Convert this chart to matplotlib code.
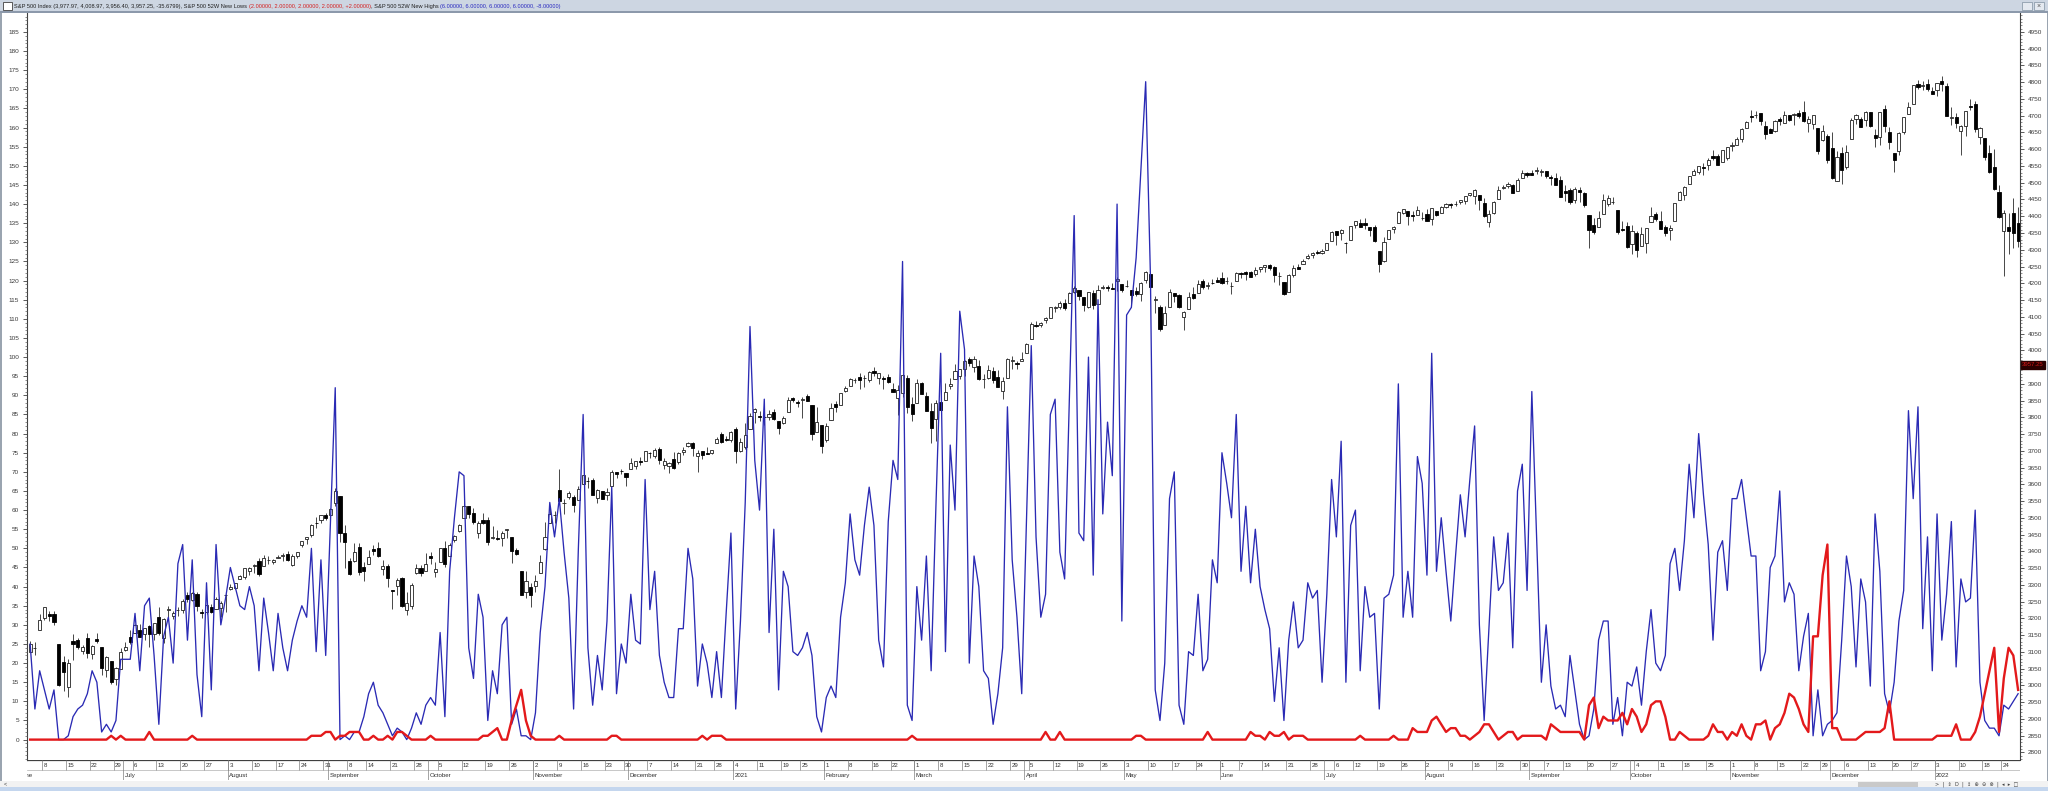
import matplotlib
matplotlib.use("Agg")
import matplotlib.pyplot as plt
from matplotlib.patches import Rectangle
from matplotlib.ticker import FixedLocator, MultipleLocator
import numpy as np
import pandas as pd

plt.rcParams['font.family'] = ['Liberation Sans', 'DejaVu Sans']

# trading days on screen: 2020-06-03 .. 2022-01-27
first_day = "2020-06-03"
last_day = "2022-01-27"
holidays = ["2020-07-03", "2020-09-07", "2020-11-26", "2020-12-25", "2021-01-01",
            "2021-01-18", "2021-02-15", "2021-04-02", "2021-05-31", "2021-07-05",
            "2021-09-06", "2021-11-25", "2021-12-24", "2022-01-17"]

# S&P 500 daily candles (right axis)
opens = [
    # 2020-06
    3098.9, 3111.6, 3163.8, 3199.9, 3213.3, 3213.4, 3123.5, 3071.0, 2993.8, 3131.0, 3136.1, 3101.6, 3140.3, 3094.4, 3138.7, 3114.4, 3046.6, 3073.2, 3018.6, 3050.2,
    # 2020-07
    3105.9, 3143.6, 3155.3, 3166.4, 3153.1, 3176.2, 3152.5, 3205.1, 3141.1, 3225.0, 3208.4, 3224.2, 3224.3, 3268.5, 3254.9, 3271.6, 3218.6, 3219.8, 3234.3, 3227.2, 3231.8, 3270.5,
    # 2020-08
    3288.3, 3289.9, 3317.4, 3323.2, 3340.1, 3356.0, 3370.3, 3355.5, 3372.9, 3368.7, 3380.9, 3387.0, 3392.5, 3360.5, 3386.0, 3418.1, 3435.9, 3450.0, 3485.1, 3494.7, 3509.7,
    # 2020-09
    3507.4, 3543.8, 3564.7, 3453.6, 3371.9, 3369.8, 3412.6, 3352.7, 3363.6, 3407.7, 3411.2, 3346.9, 3357.4, 3285.6, 3295.8, 3320.1, 3226.1, 3236.7, 3333.9, 3350.9, 3341.2,
    # 2020-10
    3385.9, 3338.9, 3367.3, 3408.7, 3384.6, 3434.3, 3459.7, 3500.0, 3534.0, 3515.5, 3453.7, 3493.5, 3493.7, 3439.4, 3439.9, 3438.5, 3464.9, 3441.4, 3403.2, 3342.5, 3277.2, 3293.6,
    # 2020-11
    3296.2, 3336.3, 3406.5, 3485.7, 3508.3, 3583.0, 3543.3, 3563.2, 3562.7, 3552.6, 3600.2, 3610.3, 3612.1, 3559.4, 3579.3, 3566.8, 3594.5, 3635.5, 3638.6, 3634.2,
    # 2020-12
    3645.9, 3653.8, 3668.3, 3670.9, 3694.7, 3683.1, 3706.0, 3659.1, 3656.1, 3675.3, 3666.4, 3696.3, 3713.7, 3722.4, 3684.3, 3698.1, 3693.4, 3694.0, 3723.0, 3750.0, 3736.2, 3733.3,
    # 2021-01
    3764.6, 3698.0, 3712.2, 3764.7, 3815.1, 3803.1, 3801.6, 3802.2, 3815.0, 3788.7, 3781.9, 3816.2, 3857.5, 3844.2, 3851.7, 3863.0, 3836.8, 3755.8, 3778.1,
    # 2021-02
    3731.2, 3791.8, 3840.3, 3836.7, 3878.3, 3892.6, 3910.5, 3920.8, 3916.4, 3911.7, 3939.6, 3918.5, 3915.9, 3921.2, 3885.6, 3857.1, 3873.7, 3915.8, 3839.7,
    # 2021-03
    3842.5, 3903.6, 3864.0, 3818.5, 3793.6, 3844.4, 3851.9, 3892.0, 3915.5, 3924.5, 3943.0, 3973.6, 3949.6, 3953.5, 3913.1, 3916.5, 3937.6, 3919.9, 3879.3, 3917.1, 3969.3, 3963.3, 3967.3,
    # 2021-04
    3992.8, 4034.4, 4075.6, 4074.3, 4090.0, 4096.1, 4124.7, 4130.1, 4141.6, 4139.8, 4174.1, 4179.8, 4159.2, 4128.4, 4170.5, 4138.8, 4185.0, 4188.3, 4185.1, 4206.1, 4198.1,
    # 2021-05
    4192.0, 4179.0, 4177.1, 4169.1, 4210.3, 4228.3, 4150.3, 4130.6, 4075.0, 4129.6, 4169.9, 4165.9, 4098.5, 4122.0, 4168.6, 4170.2, 4205.9, 4191.6, 4201.9, 4210.8,
    # 2021-06
    4216.5, 4206.8, 4191.4, 4206.1, 4229.3, 4233.8, 4233.0, 4228.6, 4242.9, 4248.3, 4255.3, 4248.9, 4220.4, 4204.8, 4173.4, 4224.6, 4249.3, 4257.0, 4274.5, 4284.9, 4293.2, 4290.7,
    # 2021-07
    4300.7, 4326.6, 4356.5, 4351.0, 4321.1, 4329.4, 4372.4, 4381.1, 4380.1, 4369.0, 4367.4, 4296.4, 4265.1, 4331.1, 4361.3, 4381.2, 4409.6, 4416.4, 4403.0, 4403.6, 4395.1,
    # 2021-08
    4406.9, 4392.7, 4416.0, 4408.9, 4429.1, 4437.8, 4435.8, 4442.2, 4446.1, 4464.8, 4461.7, 4462.1, 4440.9, 4382.4, 4410.6, 4450.3, 4484.4, 4490.5, 4493.8, 4474.1, 4513.8, 4529.8,
    # 2021-09
    4528.8, 4534.5, 4532.4, 4535.4, 4518.1, 4513.0, 4506.9, 4474.8, 4479.3, 4447.5, 4477.1, 4469.7, 4403.0, 4374.5, 4367.4, 4406.8, 4438.0, 4442.1, 4419.5, 4362.4, 4370.7,
    # 2021-10
    4317.2, 4348.8, 4309.9, 4319.6, 4384.0, 4406.5, 4385.4, 4368.3, 4358.0, 4386.8, 4447.7, 4463.7, 4497.3, 4524.4, 4532.2, 4546.1, 4553.7, 4578.7, 4580.2, 4562.8, 4572.9,
    # 2021-11
    4610.6, 4613.3, 4630.7, 4662.9, 4699.3, 4701.5, 4707.3, 4670.3, 4659.4, 4655.2, 4689.3, 4679.4, 4701.5, 4700.7, 4708.4, 4712.0, 4678.5, 4675.8, 4664.6, 4628.8, 4640.3,
    # 2021-12
    4602.8, 4504.7, 4589.5, 4548.4, 4632.0, 4690.9, 4691.0, 4687.6, 4710.3, 4643.0, 4636.5, 4719.1, 4652.5, 4587.9, 4595.0, 4650.4, 4704.0, 4734.0, 4795.5, 4788.6, 4794.2, 4775.2,
    # 2022-01
    4778.1, 4804.5, 4788.0, 4693.4, 4697.7, 4655.3, 4669.1, 4728.6, 4733.6, 4638.0, 4632.2, 4588.0, 4547.4, 4471.4, 4356.3, 4366.6, 4408.4, 4380.6,
]
highs = [
    3130.9, 3128.9, 3211.7, 3233.1, 3222.7, 3223.3, 3123.5, 3088.4, 3079.8, 3153.5, 3141.2, 3120.0, 3155.5, 3120.9, 3154.9, 3115.0, 3086.3, 3073.7, 3053.9, 3111.5,
    3128.4, 3165.8, 3182.6, 3184.2, 3171.8, 3179.8, 3186.8, 3235.3, 3200.9, 3238.3, 3220.4, 3233.5, 3258.6, 3277.3, 3279.3, 3279.9, 3227.3, 3241.4, 3243.7, 3264.7, 3250.9, 3272.2,
    3302.7, 3306.8, 3330.8, 3351.0, 3352.5, 3363.3, 3381.0, 3387.9, 3387.2, 3378.5, 3387.6, 3395.1, 3399.5, 3390.8, 3399.0, 3432.1, 3444.2, 3481.1, 3501.4, 3509.2, 3514.8,
    3528.0, 3588.1, 3564.9, 3479.2, 3380.0, 3424.8, 3425.6, 3369.0, 3402.9, 3419.5, 3428.9, 3375.2, 3362.3, 3285.6, 3320.3, 3323.4, 3278.7, 3306.9, 3360.7, 3357.9, 3393.6,
    3397.2, 3369.1, 3409.6, 3431.6, 3426.3, 3447.3, 3482.3, 3549.9, 3534.0, 3527.9, 3489.1, 3515.8, 3502.4, 3476.9, 3464.9, 3460.5, 3466.5, 3441.4, 3409.5, 3342.5, 3341.1, 3304.9,
    3330.1, 3389.5, 3486.3, 3529.1, 3521.6, 3646.0, 3557.2, 3581.2, 3569.0, 3593.7, 3628.5, 3623.1, 3619.1, 3585.2, 3581.2, 3589.8, 3642.3, 3635.5, 3644.3, 3634.2,
    3678.5, 3671.0, 3682.7, 3699.2, 3697.4, 3708.5, 3712.4, 3678.5, 3665.9, 3697.6, 3695.3, 3711.3, 3725.1, 3726.7, 3702.9, 3698.3, 3711.2, 3703.8, 3740.5, 3756.1, 3744.6, 3760.2,
    3770.0, 3737.8, 3783.0, 3811.6, 3826.7, 3817.9, 3810.8, 3821.0, 3823.6, 3788.7, 3804.5, 3859.8, 3861.5, 3852.3, 3859.2, 3870.9, 3836.8, 3830.5, 3778.1,
    3784.3, 3843.1, 3847.5, 3872.4, 3894.6, 3915.8, 3918.4, 3931.5, 3926.0, 3937.2, 3950.4, 3933.6, 3922.0, 3930.4, 3902.9, 3896.0, 3928.7, 3925.0, 3861.1,
    3914.5, 3906.4, 3874.5, 3843.7, 3851.7, 3881.1, 3903.8, 3917.4, 3960.3, 3945.0, 3970.1, 3981.0, 3983.9, 3969.6, 3930.1, 3955.3, 3949.1, 3942.1, 3919.5, 3978.2, 3981.8, 3968.0, 3994.4,
    4020.6, 4083.4, 4086.2, 4083.1, 4098.2, 4129.5, 4131.8, 4148.0, 4151.7, 4173.5, 4191.3, 4180.8, 4159.2, 4175.0, 4179.6, 4194.2, 4194.2, 4193.4, 4201.5, 4218.8, 4198.1,
    4209.4, 4179.0, 4187.7, 4202.7, 4238.0, 4236.4, 4162.0, 4134.7, 4131.6, 4183.1, 4171.9, 4169.1, 4116.9, 4172.8, 4188.7, 4209.5, 4213.4, 4202.6, 4213.4, 4218.4,
    4234.1, 4217.4, 4204.4, 4233.5, 4232.3, 4236.7, 4237.1, 4249.7, 4248.4, 4255.6, 4257.2, 4251.9, 4232.3, 4204.8, 4226.2, 4255.8, 4256.6, 4271.3, 4286.1, 4292.1, 4300.5, 4302.4,
    4320.7, 4355.4, 4356.5, 4361.9, 4324.3, 4372.0, 4386.7, 4392.4, 4393.7, 4369.0, 4375.1, 4296.4, 4336.8, 4359.7, 4369.9, 4415.2, 4422.7, 4416.4, 4415.5, 4430.0, 4412.3,
    4422.2, 4423.8, 4416.2, 4429.8, 4440.8, 4439.4, 4445.2, 4449.4, 4461.8, 4468.4, 4480.3, 4462.1, 4454.3, 4418.6, 4444.4, 4489.9, 4492.8, 4501.7, 4495.9, 4513.3, 4537.4, 4531.4,
    4537.1, 4545.9, 4541.5, 4535.4, 4521.8, 4529.9, 4520.5, 4493.0, 4485.7, 4486.9, 4485.9, 4471.5, 4403.0, 4394.9, 4416.8, 4465.4, 4463.1, 4457.3, 4419.5, 4385.6, 4382.6,
    4375.2, 4355.5, 4369.2, 4365.6, 4429.0, 4412.0, 4415.9, 4374.9, 4372.9, 4439.7, 4475.8, 4488.8, 4520.4, 4540.9, 4551.4, 4559.7, 4572.6, 4598.5, 4584.6, 4597.6, 4608.1,
    4620.3, 4635.2, 4663.5, 4683.0, 4718.5, 4714.9, 4708.5, 4684.9, 4664.6, 4688.5, 4697.4, 4715.0, 4701.5, 4708.8, 4717.8, 4743.8, 4699.4, 4702.9, 4664.6, 4673.0, 4646.0,
    4652.9, 4595.5, 4608.0, 4612.6, 4694.0, 4705.1, 4695.3, 4713.6, 4710.3, 4660.5, 4712.6, 4732.0, 4666.7, 4587.9, 4651.1, 4697.7, 4740.7, 4791.5, 4807.0, 4804.1, 4808.9, 4786.8,
    4796.6, 4818.6, 4797.7, 4725.0, 4708.0, 4673.0, 4714.1, 4749.0, 4744.1, 4665.1, 4632.2, 4611.6, 4602.1, 4494.5, 4417.4, 4411.0, 4453.2, 4428.7,
]
lows = [
    3098.9, 3090.4, 3163.8, 3196.0, 3193.1, 3181.5, 2999.5, 2984.5, 2965.7, 3076.1, 3108.0, 3093.5, 3083.1, 3079.4, 3127.1, 3032.1, 3024.0, 3004.6, 2999.7, 3047.8,
    3101.2, 3124.5, 3155.3, 3142.9, 3136.5, 3115.7, 3136.2, 3149.4, 3127.7, 3200.8, 3198.6, 3205.7, 3215.2, 3247.8, 3253.1, 3222.7, 3200.1, 3214.3, 3216.2, 3227.2, 3204.1, 3220.3,
    3284.5, 3286.4, 3317.4, 3318.1, 3328.7, 3335.4, 3326.4, 3355.5, 3363.4, 3361.6, 3379.2, 3370.2, 3369.7, 3354.7, 3379.3, 3413.1, 3421.1, 3444.2, 3468.4, 3484.3, 3493.3,
    3494.6, 3535.2, 3427.4, 3349.6, 3329.3, 3366.8, 3329.3, 3310.5, 3363.6, 3389.2, 3384.5, 3328.8, 3292.4, 3229.1, 3271.0, 3232.6, 3209.5, 3228.4, 3332.9, 3327.5, 3340.5,
    3361.4, 3323.7, 3367.3, 3354.5, 3384.6, 3428.2, 3458.1, 3499.6, 3500.9, 3480.6, 3440.9, 3480.5, 3419.9, 3435.7, 3433.1, 3415.3, 3440.5, 3364.9, 3388.7, 3268.9, 3259.8, 3233.9,
    3279.7, 3336.3, 3405.2, 3485.7, 3484.3, 3547.5, 3511.9, 3557.0, 3518.6, 3552.6, 3600.2, 3588.7, 3567.3, 3543.8, 3556.9, 3552.8, 3594.5, 3617.8, 3629.3, 3594.4,
    3645.9, 3644.8, 3657.2, 3670.9, 3678.9, 3678.8, 3660.5, 3645.2, 3633.4, 3645.8, 3659.6, 3688.6, 3710.9, 3685.8, 3636.5, 3676.2, 3689.3, 3689.3, 3723.0, 3723.3, 3730.2, 3726.9,
    3662.7, 3695.1, 3705.3, 3764.7, 3783.6, 3789.0, 3776.5, 3791.5, 3792.9, 3749.6, 3780.4, 3816.2, 3845.1, 3830.4, 3797.2, 3847.8, 3732.5, 3755.8, 3694.1,
    3725.6, 3791.8, 3816.7, 3836.7, 3874.9, 3892.6, 3902.6, 3884.9, 3890.4, 3905.8, 3923.9, 3900.4, 3885.0, 3903.1, 3874.7, 3805.6, 3859.6, 3814.0, 3789.5,
    3842.5, 3868.6, 3818.9, 3723.3, 3730.2, 3819.3, 3851.9, 3885.7, 3915.5, 3915.2, 3923.5, 3953.4, 3935.7, 3910.9, 3886.8, 3914.2, 3901.6, 3889.1, 3853.5, 3917.1, 3943.3, 3944.4, 3967.0,
    3992.8, 4034.4, 4068.1, 4068.3, 4082.5, 4095.5, 4114.8, 4124.4, 4120.9, 4139.8, 4170.8, 4150.5, 4118.4, 4126.4, 4123.7, 4138.8, 4182.4, 4176.2, 4181.8, 4176.8, 4174.9,
    4188.0, 4128.6, 4160.9, 4147.3, 4201.6, 4188.1, 4111.5, 4056.9, 4075.0, 4129.6, 4142.7, 4126.0, 4061.4, 4122.0, 4151.7, 4170.2, 4182.5, 4184.1, 4197.8, 4203.6,
    4197.6, 4198.3, 4167.9, 4206.1, 4215.7, 4208.4, 4218.7, 4220.3, 4233.0, 4234.1, 4238.4, 4202.5, 4196.1, 4164.4, 4173.4, 4217.3, 4241.4, 4257.0, 4271.2, 4274.7, 4287.0, 4287.8,
    4300.7, 4326.6, 4314.4, 4329.8, 4289.5, 4329.4, 4364.0, 4366.9, 4362.4, 4340.7, 4323.0, 4233.1, 4262.1, 4331.1, 4350.1, 4381.2, 4405.5, 4372.5, 4387.0, 4403.6, 4389.7,
    4384.8, 4373.0, 4400.2, 4408.9, 4424.5, 4424.7, 4430.0, 4436.4, 4435.5, 4460.8, 4437.7, 4417.8, 4397.6, 4367.7, 4406.8, 4450.3, 4482.3, 4485.7, 4469.0, 4474.1, 4513.8, 4515.8,
    4522.0, 4524.7, 4521.3, 4513.0, 4494.0, 4492.1, 4457.7, 4445.7, 4435.5, 4438.4, 4443.8, 4427.8, 4305.9, 4348.0, 4367.4, 4406.8, 4430.3, 4436.2, 4346.3, 4355.1, 4306.2,
    4288.5, 4278.9, 4309.9, 4290.5, 4384.0, 4386.2, 4360.6, 4342.1, 4329.9, 4386.8, 4447.7, 4447.5, 4496.4, 4524.4, 4526.9, 4524.0, 4537.4, 4569.2, 4551.7, 4562.8, 4567.6,
    4595.1, 4613.3, 4621.2, 4662.6, 4681.3, 4694.4, 4670.9, 4630.9, 4648.3, 4650.0, 4672.9, 4679.4, 4684.4, 4672.8, 4694.2, 4682.2, 4652.7, 4659.9, 4585.4, 4625.3, 4560.0,
    4510.3, 4504.7, 4495.1, 4540.5, 4632.0, 4674.5, 4666.0, 4670.2, 4667.6, 4606.5, 4611.2, 4651.9, 4600.2, 4531.1, 4583.2, 4645.5, 4704.0, 4734.0, 4780.0, 4778.1, 4775.3, 4765.8,
    4758.2, 4774.3, 4699.4, 4671.3, 4662.7, 4582.2, 4638.3, 4716.1, 4650.3, 4614.8, 4568.7, 4530.2, 4478.0, 4395.3, 4222.6, 4287.1, 4304.8, 4309.5,
]
closes = [
    3122.9, 3112.4, 3193.9, 3232.4, 3207.2, 3190.1, 3002.1, 3041.3, 3066.6, 3124.7, 3113.5, 3115.3, 3097.7, 3117.9, 3131.3, 3050.3, 3083.8, 3009.1, 3053.2, 3100.3,
    3115.9, 3130.0, 3179.7, 3145.3, 3169.9, 3152.1, 3185.0, 3155.2, 3197.5, 3226.6, 3215.6, 3224.7, 3251.8, 3257.3, 3276.0, 3235.7, 3215.6, 3239.4, 3218.4, 3258.4, 3246.2, 3271.1,
    3294.6, 3306.5, 3327.8, 3349.2, 3351.3, 3360.5, 3333.7, 3380.4, 3373.4, 3372.9, 3381.9, 3389.8, 3374.9, 3385.5, 3397.2, 3431.3, 3443.6, 3478.7, 3484.6, 3508.0, 3500.3,
    3526.7, 3580.8, 3455.1, 3427.0, 3331.8, 3399.0, 3339.2, 3341.0, 3383.5, 3401.2, 3385.5, 3357.0, 3319.5, 3281.1, 3315.6, 3236.9, 3246.6, 3298.5, 3351.6, 3335.5, 3363.0,
    3380.8, 3348.4, 3408.6, 3361.0, 3419.4, 3446.8, 3477.1, 3534.2, 3511.9, 3488.7, 3483.3, 3483.8, 3426.9, 3443.1, 3435.6, 3453.5, 3465.4, 3401.0, 3390.7, 3271.0, 3310.1, 3270.0,
    3310.2, 3369.2, 3443.4, 3510.5, 3509.4, 3550.5, 3545.5, 3572.7, 3537.0, 3585.2, 3626.9, 3609.5, 3567.8, 3581.9, 3557.5, 3577.6, 3635.4, 3629.7, 3638.4, 3621.6,
    3662.5, 3669.0, 3666.7, 3699.1, 3692.0, 3702.3, 3672.8, 3668.1, 3663.5, 3647.5, 3694.6, 3701.2, 3722.5, 3709.4, 3694.9, 3687.3, 3690.0, 3703.1, 3735.4, 3727.0, 3732.0, 3756.1,
    3700.7, 3726.9, 3748.1, 3803.8, 3824.7, 3799.6, 3801.2, 3809.8, 3795.5, 3768.3, 3798.9, 3851.9, 3853.1, 3841.5, 3855.4, 3849.6, 3750.8, 3787.4, 3714.2,
    3773.9, 3826.3, 3830.2, 3871.7, 3886.8, 3915.6, 3911.2, 3909.9, 3916.4, 3934.8, 3932.6, 3931.3, 3914.0, 3906.7, 3876.5, 3881.4, 3925.4, 3829.3, 3811.2,
    3901.8, 3870.3, 3819.7, 3768.5, 3841.9, 3821.4, 3875.4, 3898.8, 3939.3, 3943.3, 3968.9, 3962.7, 3974.1, 3915.5, 3913.1, 3940.6, 3910.5, 3889.1, 3909.5, 3974.5, 3971.1, 3958.6, 3972.9,
    4019.9, 4077.9, 4073.9, 4080.0, 4097.2, 4128.8, 4128.0, 4141.6, 4124.7, 4170.4, 4185.5, 4163.3, 4134.9, 4173.4, 4135.0, 4180.2, 4187.6, 4186.7, 4183.2, 4211.5, 4181.2,
    4192.7, 4164.7, 4167.6, 4201.6, 4232.6, 4188.4, 4152.1, 4063.0, 4112.5, 4173.9, 4163.3, 4127.8, 4115.7, 4159.1, 4155.9, 4197.1, 4188.1, 4196.0, 4200.9, 4204.1,
    4202.0, 4208.1, 4192.9, 4229.9, 4226.5, 4227.3, 4219.6, 4239.2, 4247.4, 4255.2, 4246.6, 4223.7, 4221.9, 4166.5, 4224.8, 4246.4, 4241.8, 4266.5, 4280.7, 4290.6, 4291.8, 4297.5,
    4319.9, 4352.3, 4343.5, 4358.1, 4320.8, 4369.6, 4384.6, 4369.2, 4374.3, 4360.0, 4327.2, 4258.5, 4323.1, 4358.7, 4367.5, 4411.8, 4422.3, 4401.5, 4400.6, 4419.2, 4395.3,
    4387.2, 4423.2, 4402.7, 4429.1, 4436.5, 4432.4, 4436.8, 4447.7, 4460.8, 4468.0, 4479.7, 4448.1, 4400.3, 4405.8, 4441.7, 4479.5, 4486.2, 4496.2, 4470.0, 4509.4, 4528.8, 4522.7,
    4524.1, 4537.0, 4535.4, 4520.0, 4514.1, 4493.3, 4458.6, 4468.7, 4443.1, 4480.7, 4473.8, 4433.0, 4357.7, 4354.2, 4395.6, 4449.0, 4455.5, 4443.1, 4352.6, 4359.5, 4307.5,
    4357.0, 4300.5, 4345.7, 4363.6, 4399.8, 4391.3, 4361.2, 4350.7, 4363.8, 4438.3, 4471.4, 4486.5, 4519.6, 4536.2, 4549.8, 4544.9, 4566.5, 4574.8, 4551.7, 4596.4, 4605.4,
    4613.7, 4630.7, 4660.6, 4680.1, 4697.5, 4701.7, 4685.3, 4646.7, 4649.3, 4682.9, 4682.8, 4700.9, 4688.7, 4704.5, 4698.0, 4682.9, 4690.7, 4701.5, 4594.6, 4655.3, 4567.0,
    4513.0, 4577.1, 4538.4, 4591.7, 4686.8, 4701.2, 4667.5, 4712.0, 4669.0, 4634.1, 4709.9, 4668.7, 4620.6, 4568.0, 4649.2, 4696.6, 4725.8, 4791.2, 4786.4, 4793.1, 4778.7, 4766.2,
    4796.6, 4793.5, 4700.6, 4696.1, 4677.0, 4670.3, 4713.1, 4726.4, 4659.0, 4662.9, 4577.1, 4532.8, 4482.7, 4397.9, 4410.1, 4356.5, 4349.9, 4326.5,
]

# S&P 500 52-week new highs / new lows (left axis)
new_highs = [
    25, 8, 18, 13, 8, 13, 0, 0, 1, 6, 8, 9, 12, 18, 15, 2, 4, 2, 5, 21,
    21, 21, 33, 18, 35, 37, 22, 4, 27, 32, 20, 46, 51, 26, 47, 17, 6, 41, 13, 51, 30, 37,
    45, 40, 35, 34, 40, 35, 18, 37, 28, 18, 33, 24, 18, 26, 31, 35, 32, 50, 23, 47, 22,
    57, 92, 0, 1, 0, 2, 2, 6, 12, 15, 9, 7, 4, 1, 3, 2, 0, 3, 7, 4, 9,
    11, 9, 28, 6, 44, 58, 70, 69, 24, 16, 38, 32, 5, 18, 12, 30, 32, 4, 8, 1, 1, 0,
    7, 28, 40, 62, 53, 63, 49, 37, 8, 50, 85, 24, 9, 22, 13, 31, 66, 12, 25, 20,
    38, 26, 25, 68, 34, 44, 22, 15, 11, 11, 29, 29, 50, 42, 14, 25, 20, 11, 23, 11, 33, 54,
    8, 31, 62, 108, 73, 60, 89, 28, 55, 13, 44, 40, 23, 22, 24, 28, 22, 6, 2,
    11, 14, 11, 32, 41, 59, 47, 43, 56, 66, 56, 26, 19, 57, 73, 68, 125, 9, 5,
    40, 26, 48, 18, 61, 101, 23, 77, 60, 112, 102, 20, 48, 40, 18, 16, 4, 12, 24, 87, 47, 32, 12,
    58, 103, 53, 32, 38, 85, 89, 49, 42, 90, 137, 54, 52, 100, 43, 115, 59, 83, 69, 140, 31,
    111, 113, 126, 149, 172, 121, 13, 5, 20, 63, 70, 9, 4, 23, 22, 38, 18, 21, 47, 41,
    75, 67, 58, 85, 44, 61, 41, 55, 40, 34, 29, 10, 24, 5, 26, 36, 24, 26, 41, 37, 39, 15,
    38, 68, 53, 78, 15, 56, 60, 18, 40, 32, 33, 8, 37, 38, 43, 93, 32, 44, 32, 74, 67,
    43, 101, 44, 58, 44, 31, 48, 64, 53, 68, 82, 30, 5, 29, 53, 39, 41, 54, 24, 65, 72, 39,
    91, 53, 15, 30, 14, 8, 9, 6, 22, 13, 4, 0, 1, 8, 26, 31, 31, 4, 11, 1, 15,
    14, 19, 9, 23, 34, 20, 18, 22, 46, 50, 39, 52, 72, 58, 80, 64, 51, 26, 49, 52, 39,
    63, 63, 68, 58, 48, 48, 18, 23, 45, 48, 65, 36, 41, 38, 18, 27, 33, 1, 13, 1, 4,
    5, 7, 26, 48, 40, 19, 42, 36, 14, 59, 44, 12, 7, 15, 31, 39, 86, 63, 87, 29, 53, 18,
    59, 26, 38, 57, 19, 42, 36, 37, 60, 15, 5, 3, 3, 1, 9, 8, 10, 12,
]
new_lows = [
    0, 0, 0, 0, 0, 0, 0, 0, 0, 0, 0, 0, 0, 0, 0, 0, 0, 1, 0, 1,
    0, 0, 0, 0, 0, 2, 0, 0, 0, 0, 0, 0, 0, 0, 1, 0, 0, 0, 0, 0, 0, 0,
    0, 0, 0, 0, 0, 0, 0, 0, 0, 0, 0, 0, 0, 0, 0, 0, 0, 1, 1, 1, 2,
    2, 0, 1, 1, 2, 2, 2, 0, 0, 1, 0, 0, 1, 0, 2, 2, 1, 0, 0, 0, 0,
    1, 0, 0, 0, 0, 0, 0, 0, 0, 0, 0, 1, 1, 2, 3, 0, 0, 5, 9, 13, 5, 1,
    0, 0, 0, 0, 0, 1, 0, 0, 0, 0, 0, 0, 0, 0, 0, 0, 1, 1, 0, 0,
    0, 0, 0, 0, 0, 0, 0, 0, 0, 0, 0, 0, 0, 0, 0, 1, 0, 1, 1, 1, 0, 0,
    0, 0, 0, 0, 0, 0, 0, 0, 0, 0, 0, 0, 0, 0, 0, 0, 0, 0, 0,
    0, 0, 0, 0, 0, 0, 0, 0, 0, 0, 0, 0, 0, 0, 0, 0, 0, 0, 1,
    0, 0, 0, 0, 0, 0, 0, 0, 0, 0, 0, 0, 0, 0, 0, 0, 0, 0, 0, 0, 0, 0, 0,
    0, 0, 0, 0, 2, 0, 0, 2, 0, 0, 0, 0, 0, 0, 0, 0, 0, 0, 0, 0, 0,
    0, 0, 1, 1, 0, 0, 0, 0, 0, 0, 0, 0, 0, 0, 0, 0, 0, 2, 0, 0,
    0, 0, 0, 0, 0, 0, 2, 1, 1, 0, 2, 1, 1, 2, 0, 1, 1, 1, 0, 0, 0, 0,
    0, 0, 0, 0, 0, 0, 0, 1, 0, 0, 0, 0, 0, 0, 1, 0, 0, 0, 3, 2, 2,
    2, 5, 6, 4, 2, 3, 3, 1, 1, 0, 1, 2, 4, 4, 2, 0, 1, 2, 2, 0, 1, 1,
    1, 1, 1, 0, 4, 3, 2, 2, 2, 2, 2, 0, 9, 11, 3, 6, 5, 5, 5, 7, 4,
    8, 6, 2, 4, 9, 10, 10, 6, 0, 0, 2, 1, 0, 0, 0, 0, 1, 4, 2, 2, 0,
    2, 1, 4, 1, 0, 4, 4, 5, 0, 3, 4, 7, 12, 11, 8, 4, 2, 27, 27, 43, 51,
    3, 3, 0, 0, 0, 0, 1, 2, 2, 2, 2, 3, 10, 0, 0, 0, 0, 0, 0, 0, 0, 0,
    1, 1, 1, 1, 4, 0, 0, 0, 2, 6, 12, 18, 24, 2, 16, 24, 22, 13,
]
last_price = 3957.25
month_names = ["January", "February", "March", "April", "May", "June", "July",
               "August", "September", "October", "November", "December"]

dates = pd.bdate_range(first_day, last_day).drop(pd.to_datetime(holidays))
n = len(dates)
for name, arr in [("opens", opens), ("highs", highs), ("lows", lows), ("closes", closes),
                  ("new_highs", new_highs), ("new_lows", new_lows)]:
    assert len(arr) == n, (name, len(arr), n)

W, H = 2048, 791
fig = plt.figure(figsize=(W / 100, H / 100), dpi=100)
fig.patch.set_facecolor("white")


def frac(x0, y0, x1, y1):
    # pixel box (top-left origin) -> figure fraction [l, b, w, h]
    return [x0 / W, 1 - y1 / H, (x1 - x0) / W, (y1 - y0) / H]


def fig_rect(x0, y0, x1, y1, fc, ec="none", lw=0.0):
    l, b, w, h = frac(x0, y0, x1, y1)
    fig.add_artist(Rectangle((l, b), w, h, transform=fig.transFigure,
                             facecolor=fc, edgecolor=ec, linewidth=lw))


PL, PR, PT, PB = 26.7, 2020, 13, 760
x = np.arange(n)
xlim = (-0.72, n - 0.6)

# price panel (right scale)
ax = fig.add_axes(frac(PL, PT, PR, PB))
ax2 = ax.twinx()
ax.set_xlim(xlim)
ax.set_ylim(2777.2, 5006.6)
ax.yaxis.tick_right()
ax.yaxis.set_major_locator(FixedLocator(np.arange(2800, 4951, 50)))
ax.yaxis.set_minor_locator(MultipleLocator(10))
ax.tick_params(axis="y", which="major", length=3, width=0.6, labelsize=4.6,
               labelcolor="#3a3a3a", pad=2.5, direction="out", color="#404040")
ax.tick_params(axis="y", which="minor", length=1.5, width=0.5, color="#606060")
ax.set_xticks([])
for s in ["top", "bottom"]:
    ax.spines[s].set_visible(False)
ax.spines["left"].set_color("#404040")
ax.spines["right"].set_color("#404040")
ax.spines["left"].set_linewidth(0.8)
ax.spines["right"].set_linewidth(0.8)

o = np.array(opens)
c = np.array(closes)
hi = np.array(highs)
lo = np.array(lows)
up = c >= o
ax.vlines(x, lo, hi, color="#3a3a3a", lw=0.65, zorder=1)
ax.bar(x[up], c[up] - o[up], bottom=o[up], width=0.66, facecolor="white",
       edgecolor="#202020", linewidth=0.6, zorder=2)
ax.bar(x[~up], o[~up] - c[~up], bottom=c[~up], width=0.66, facecolor="black",
       edgecolor="black", linewidth=0.6, zorder=2)

ax.text(1.001, last_price, "3957.25", transform=ax.get_yaxis_transform(),
        ha="left", va="center", fontsize=4.3, color="#d01818", clip_on=False,
        bbox=dict(boxstyle="square,pad=0.25", facecolor="#2a0000", edgecolor="#2a0000"))

# breadth panel (left scale)
ax2.set_ylim(-5.33, 189.96)
ax2.yaxis.tick_left()
ax2.yaxis.set_major_locator(FixedLocator(np.arange(0, 186, 5)))
ax2.yaxis.set_minor_locator(MultipleLocator(1))
ax2.tick_params(axis="y", which="major", length=3, width=0.6, labelsize=4.6,
                labelcolor="#3a3a3a", pad=2.5, direction="out", color="#404040")
ax2.tick_params(axis="y", which="minor", length=1.5, width=0.5, color="#606060")
for s in ax2.spines.values():
    s.set_visible(False)
ax2.plot(x, new_highs, color="#2a2ab4", lw=0.95, zorder=3)
ax2.plot(x, new_lows, color="#e3191b", lw=1.7, zorder=4)

# date scale rows
axd = fig.add_axes(frac(PL, PB, PR, 780))
axd.set_xlim(xlim)
axd.set_ylim(0, 2)
axd.axis("off")
axd.axhline(2, color="#404040", lw=0.9)
axd.axhline(1, color="#b0b0b0", lw=0.5)
wk = dates.isocalendar().week.values
for i in range(1, n):
    if wk[i] != wk[i - 1]:
        axd.vlines(i - 0.5, 1, 2, color="#808080", lw=0.5)
        axd.text(i - 0.2, 1.45, str(dates[i].day), fontsize=4.4, color="#303030",
                 ha="left", va="center", clip_on=True)
month_starts = [(-2, "June")]
for i in range(1, n):
    if dates[i].month != dates[i - 1].month:
        m = dates[i].month
        label = str(dates[i].year) if m == 1 else month_names[m - 1]
        month_starts.append((i, label))
for i, label in month_starts:
    axd.vlines(i - 0.5, 0, 2, color="#808080", lw=0.5)
    axd.text(i - 0.2, 0.45, label, fontsize=4.4, color="#303030",
             ha="left", va="center", clip_on=True)

# window chrome
fig_rect(0, 0, W, 12, "#cdd6e2")
fig_rect(0, 11.5, W, 12.5, "#8c99ab")
fig_rect(2.5, 2.5, 11.5, 9.5, "white", ec="#404040", lw=0.6)
fig_rect(2022, 2, 2032, 10, "#e4e9f0", ec="#8090a0", lw=0.5)
fig_rect(2034, 2, 2044, 10, "#e4e9f0", ec="#8090a0", lw=0.5)
fig.text(2039 / W, 1 - 6 / H, "×", fontsize=5, ha="center", va="center", color="#505050")
fig_rect(0, 12.5, 1.5, 781, "#9aa4b0")
fig_rect(2046.5, 12.5, W, 781, "#9aa4b0")
fig_rect(0, 781, W, 787, "#f2f2f2")
fig_rect(0, 787, W, H, "#c4d6ee")
fig_rect(1858, 781.5, 1918, 786.5, "#c9c9c9")
fig.text(4 / W, 1 - 784 / H, "<", fontsize=4, ha="left", va="center", color="#404040")
fig.text(1935 / W, 1 - 784 / H, ">  |  \u21d5  D  |  \u2195  \u2295  \u2296  \u2297  |  \u25c2  \u25b8  \u25a1",
         fontsize=3.6, ha="left", va="center", color="#404040", family="DejaVu Sans")

# title line in the chart header, coloured runs
pieces = [
    ("S&P 500 Index (3,977.97, 4,008.97, 3,956.40, 3,957.25, -35.6799), S&P 500 52W New Lows ", "#202020"),
    ("(2.00000, 2.00000, 2.00000, 2.00000, +2.00000)", "#d42020"),
    (", S&P 500 52W New Highs ", "#202020"),
    ("(6.00000, 6.00000, 6.00000, 6.00000, -8.00000)", "#2a2ac0"),
]
renderer = fig.canvas.get_renderer()
xpos = 14.0
for txt, col in pieces:
    t = fig.text(xpos / W, 1 - 6.2 / H, txt, fontsize=4.1, color=col, ha="left", va="center")
    xpos += t.get_window_extent(renderer=renderer).width

fig.savefig("out.png", dpi=100)
